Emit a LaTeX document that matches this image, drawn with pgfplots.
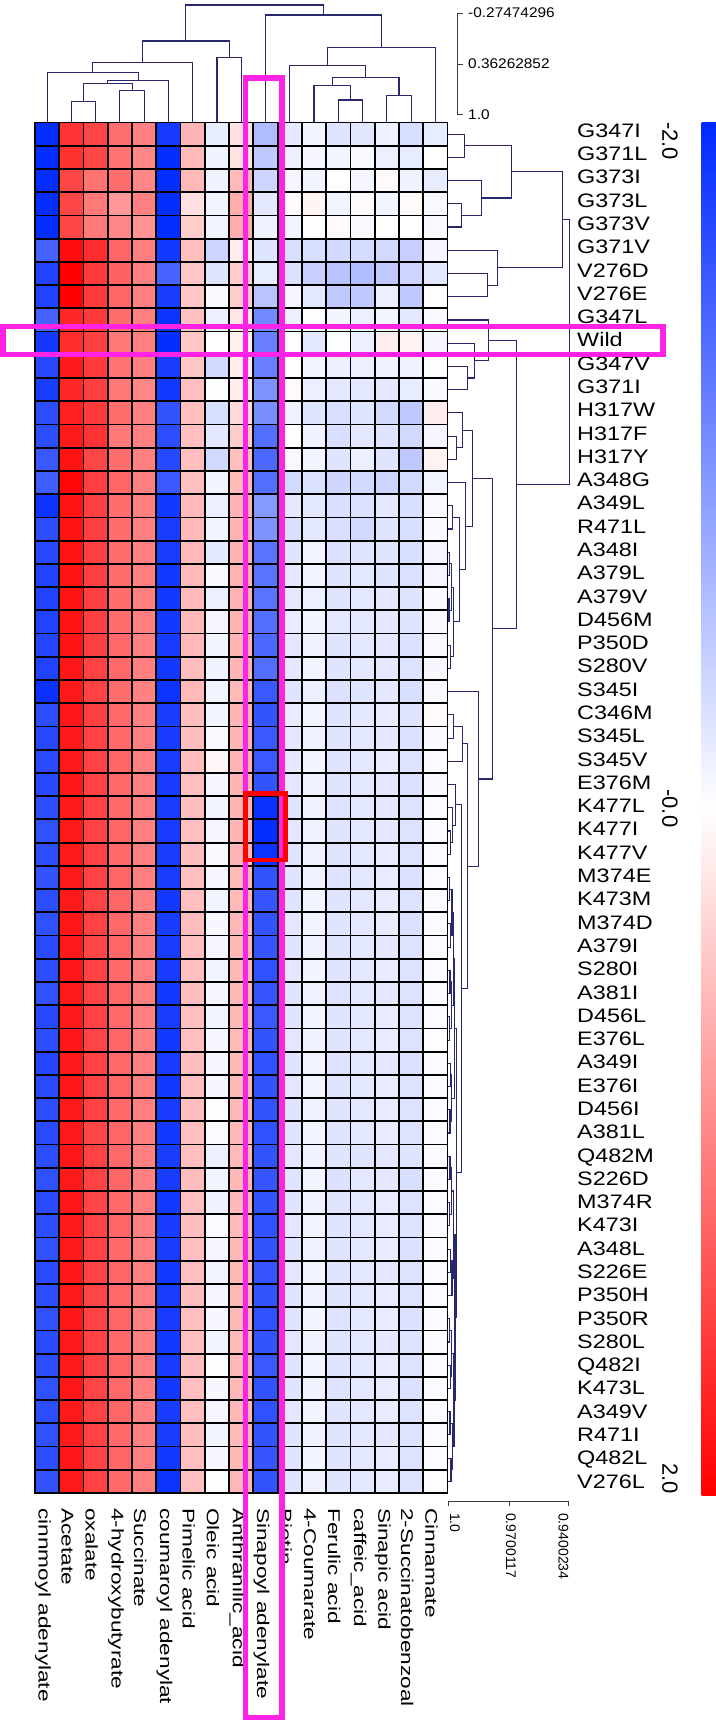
\documentclass[border=0pt]{standalone}
\usepackage{fontspec}
\setmainfont{Liberation Sans}
\usepackage{pgfplots}
\usepackage{pgfplotstable}
\pgfplotsset{compat=1.18}
\definecolor{dendro}{RGB}{40,40,110}
\definecolor{hl}{RGB}{255,35,230}
\definecolor{sc}{RGB}{60,60,60}
\pgfdeclareplotmark{cell}{%
  \pgfpathrectangle{\pgfqpoint{-12.1325pt}{-11.6145pt}}{\pgfqpoint{24.265pt}{23.229pt}}%
  \pgfusepathqfillstroke}
\newcommand\rowf{\fontsize{19.5}{22}\selectfont}
\newcommand\colf{\fontsize{17}{19}\selectfont}
\newcommand\cbf{\fontsize{22}{24}\selectfont}
\newcommand\scf{\fontsize{14}{16}\selectfont}

\pgfplotstableread{
c1 c2 c3 c4 c5 c6 c7 c8 c9 c10 c11 c12 c13 c14 c15 c16 c17
-1.95 1.60 1.46 1.14 1.00 -1.83 0.58 -0.18 0.24 -0.62 -0.20 -0.10 -0.24 -0.23 -0.13 -0.30 -0.18
-1.97 1.62 1.45 1.10 0.95 -1.95 0.55 -0.12 0.22 -0.50 -0.15 -0.08 -0.10 -0.05 -0.15 -0.18 0.00
-1.95 1.45 1.10 1.15 0.95 -1.95 0.55 -0.12 0.55 -0.40 -0.08 -0.10 0.00 -0.08 0.05 -0.12 -0.18
-1.95 1.45 1.05 0.80 1.00 -1.95 0.25 -0.10 0.65 -0.20 0.03 0.08 -0.10 0.03 -0.10 0.05 -0.05
-1.95 1.45 1.05 0.95 0.85 -1.95 0.40 -0.10 0.65 -0.12 -0.10 0.00 0.05 -0.05 0.00 0.00 -0.05
-1.45 1.90 1.65 1.20 1.00 -1.85 0.50 -0.40 0.15 -0.25 -0.30 -0.30 -0.35 -0.32 -0.35 -0.45 -0.08
-1.75 2.00 1.55 1.25 1.00 -1.45 0.45 -0.25 0.40 -0.18 -0.28 -0.45 -0.55 -0.60 -0.50 -0.40 -0.20
-1.75 2.00 1.55 1.20 1.00 -1.80 0.45 -0.05 0.40 -0.55 -0.08 -0.20 -0.50 -0.50 -0.15 -0.50 0.02
-1.45 1.70 1.55 1.15 1.00 -1.90 0.50 -0.15 0.20 -1.10 -0.15 -0.02 -0.10 -0.15 -0.10 -0.20 -0.05
-1.85 1.65 1.50 1.05 1.00 -1.95 0.45 0.00 0.12 -1.20 -0.02 -0.20 -0.02 -0.15 0.15 0.10 -0.08
-1.70 1.80 1.55 1.10 1.00 -1.80 0.45 -0.35 0.15 -1.20 0.00 -0.10 -0.15 -0.15 -0.12 -0.12 -0.02
-1.80 1.70 1.50 1.05 0.95 -1.85 0.50 -0.02 0.15 -1.00 0.05 -0.15 -0.20 -0.20 -0.20 -0.18 -0.05
-1.65 1.75 1.55 1.15 1.00 -1.60 0.50 -0.30 0.30 -1.05 -0.12 -0.25 -0.30 -0.25 -0.35 -0.50 0.15
-1.65 1.80 1.60 1.05 1.00 -1.65 0.50 -0.22 0.40 -1.35 0.02 -0.12 -0.30 -0.20 -0.25 -0.35 -0.08
-1.55 1.85 1.45 1.15 1.00 -1.70 0.50 -0.35 0.50 -1.40 -0.05 -0.10 -0.25 -0.15 -0.25 -0.50 0.10
-1.50 1.95 1.50 1.20 1.00 -1.55 0.50 -0.10 0.55 -1.35 -0.35 -0.28 -0.38 -0.35 -0.40 -0.35 -0.10
-1.90 1.85 1.50 1.15 1.00 -1.85 0.55 -0.15 0.60 -0.95 -0.20 -0.20 -0.30 -0.28 -0.20 -0.30 -0.05
-1.65 1.85 1.50 1.15 1.00 -1.80 0.55 -0.10 0.60 -1.00 -0.30 -0.20 -0.30 -0.35 -0.25 -0.30 -0.05
-1.70 1.85 1.50 1.15 1.00 -1.80 0.55 -0.20 0.60 -1.30 -0.25 -0.10 -0.28 -0.25 -0.25 -0.30 -0.08
-1.75 1.85 1.50 1.15 1.00 -1.85 0.55 -0.05 0.60 -1.30 -0.20 -0.10 -0.25 -0.20 -0.25 -0.28 -0.08
-1.75 1.85 1.50 1.15 1.00 -1.85 0.55 -0.15 0.60 -1.30 -0.20 -0.15 -0.25 -0.22 -0.20 -0.25 -0.05
-1.75 1.85 1.50 1.15 1.00 -1.85 0.55 -0.08 0.60 -1.35 -0.18 -0.10 -0.22 -0.22 -0.20 -0.25 -0.05
-1.72 1.85 1.50 1.18 1.00 -1.82 0.55 -0.10 0.58 -1.40 -0.22 -0.12 -0.25 -0.22 -0.22 -0.28 -0.05
-1.75 1.82 1.48 1.18 1.00 -1.85 0.52 -0.12 0.58 -1.35 -0.20 -0.10 -0.24 -0.20 -0.20 -0.26 -0.06
-1.92 1.80 1.48 1.15 0.98 -1.90 0.55 -0.10 0.55 -1.55 -0.25 -0.15 -0.28 -0.25 -0.20 -0.30 -0.05
-1.65 1.82 1.50 1.18 1.00 -1.80 0.52 -0.10 0.58 -1.60 -0.18 -0.10 -0.24 -0.20 -0.18 -0.25 0.05
-1.70 1.80 1.48 1.18 1.00 -1.82 0.52 -0.05 0.58 -1.55 -0.22 -0.12 -0.25 -0.22 -0.20 -0.28 -0.05
-1.68 1.80 1.48 1.20 1.00 -1.80 0.52 0.06 0.58 -1.55 -0.20 -0.10 -0.24 -0.22 -0.18 -0.26 -0.04
-1.70 1.82 1.48 1.18 1.00 -1.82 0.50 -0.08 0.58 -1.60 -0.22 -0.12 -0.25 -0.22 -0.20 -0.28 -0.05
-1.65 1.80 1.48 1.18 1.00 -1.80 0.52 -0.10 0.58 -1.92 -0.24 -0.12 -0.26 -0.22 -0.20 -0.26 -0.04
-1.62 1.80 1.48 1.20 1.00 -1.82 0.50 -0.08 0.58 -1.95 -0.22 -0.12 -0.25 -0.22 -0.20 -0.26 -0.04
-1.65 1.80 1.48 1.18 1.00 -1.80 0.52 -0.05 0.58 -1.90 -0.24 -0.12 -0.25 -0.22 -0.18 -0.26 -0.04
-1.60 1.80 1.48 1.20 1.00 -1.80 0.50 -0.08 0.55 -1.60 -0.24 -0.12 -0.26 -0.22 -0.18 -0.28 -0.04
-1.65 1.80 1.48 1.20 1.00 -1.85 0.50 -0.10 0.55 -1.58 -0.24 -0.10 -0.25 -0.22 -0.18 -0.26 -0.04
-1.62 1.82 1.48 1.18 1.00 -1.82 0.52 -0.06 0.56 -1.60 -0.22 -0.10 -0.24 -0.22 -0.18 -0.28 -0.03
-1.68 1.80 1.46 1.20 1.00 -1.80 0.50 -0.08 0.56 -1.58 -0.25 -0.12 -0.25 -0.22 -0.20 -0.26 -0.04
-1.65 1.82 1.48 1.18 1.00 -1.82 0.50 -0.10 0.56 -1.62 -0.22 -0.10 -0.24 -0.22 -0.18 -0.26 -0.04
-1.62 1.80 1.48 1.20 1.00 -1.85 0.52 -0.06 0.56 -1.58 -0.24 -0.12 -0.26 -0.22 -0.20 -0.26 -0.03
-1.70 1.80 1.48 1.18 1.00 -1.80 0.50 -0.10 0.56 -1.55 -0.24 -0.10 -0.25 -0.22 -0.18 -0.26 -0.04
-1.65 1.82 1.46 1.20 1.00 -1.85 0.50 -0.06 0.55 -1.60 -0.22 -0.12 -0.24 -0.22 -0.18 -0.26 -0.02
-1.72 1.80 1.48 1.18 1.00 -1.82 0.52 -0.08 0.56 -1.62 -0.24 -0.10 -0.26 -0.22 -0.20 -0.28 -0.04
-1.68 1.82 1.48 1.20 1.00 -1.85 0.50 -0.06 0.56 -1.60 -0.22 -0.10 -0.24 -0.20 -0.18 -0.26 -0.03
-1.65 1.80 1.48 1.18 1.00 -1.82 0.52 -0.02 0.56 -1.60 -0.24 -0.12 -0.25 -0.22 -0.18 -0.26 -0.03
-1.68 1.80 1.46 1.20 1.00 -1.85 0.50 -0.04 0.56 -1.62 -0.24 -0.10 -0.25 -0.22 -0.18 -0.26 -0.03
-1.65 1.82 1.48 1.18 1.00 -1.80 0.50 -0.15 0.55 -1.60 -0.22 -0.12 -0.25 -0.24 -0.20 -0.24 -0.04
-1.62 1.80 1.48 1.20 1.00 -1.82 0.52 -0.10 0.56 -1.58 -0.24 -0.10 -0.28 -0.22 -0.20 -0.30 -0.03
-1.68 1.82 1.46 1.18 1.00 -1.85 0.50 -0.12 0.56 -1.60 -0.24 -0.12 -0.25 -0.22 -0.18 -0.26 -0.04
-1.65 1.80 1.48 1.20 1.00 -1.82 0.52 -0.04 0.55 -1.62 -0.22 -0.10 -0.25 -0.22 -0.18 -0.26 -0.03
-1.62 1.80 1.48 1.18 1.00 -1.80 0.50 -0.08 0.56 -1.60 -0.24 -0.12 -0.24 -0.22 -0.18 -0.28 -0.03
-1.68 1.82 1.48 1.20 1.00 -1.85 0.50 -0.10 0.56 -1.58 -0.22 -0.10 -0.25 -0.22 -0.20 -0.26 -0.04
-1.65 1.80 1.46 1.18 1.00 -1.80 0.52 -0.08 0.56 -1.60 -0.24 -0.12 -0.25 -0.22 -0.18 -0.26 -0.03
-1.62 1.82 1.48 1.20 1.00 -1.82 0.50 -0.06 0.56 -1.62 -0.24 -0.10 -0.26 -0.22 -0.18 -0.28 -0.03
-1.68 1.80 1.48 1.18 1.00 -1.85 0.50 -0.10 0.55 -1.60 -0.22 -0.12 -0.25 -0.22 -0.20 -0.26 -0.04
-1.65 1.80 1.48 1.20 1.00 -1.82 0.52 -0.02 0.56 -1.55 -0.24 -0.10 -0.24 -0.22 -0.18 -0.26 -0.03
-1.62 1.82 1.46 1.18 1.00 -1.85 0.50 -0.06 0.56 -1.60 -0.24 -0.12 -0.26 -0.22 -0.18 -0.28 -0.03
-1.65 1.80 1.48 1.20 1.00 -1.82 0.50 -0.08 0.56 -1.62 -0.22 -0.10 -0.25 -0.22 -0.18 -0.26 -0.04
-1.62 1.80 1.48 1.18 1.00 -1.80 0.52 -0.10 0.55 -1.60 -0.24 -0.12 -0.25 -0.22 -0.20 -0.26 -0.03
-1.65 1.82 1.48 1.20 1.00 -1.85 0.50 -0.06 0.56 -1.58 -0.24 -0.10 -0.25 -0.22 -0.18 -0.26 -0.03
-1.60 1.80 1.48 1.18 1.00 -1.90 0.50 -0.02 0.56 -1.60 -0.24 -0.12 -0.25 -0.22 -0.18 -0.26 -0.02
}\heat

\begin{document}
\begin{tikzpicture}[x=1pt,y=1pt]
% ---------------- heatmap ----------------
\begin{axis}[
  at={(35pt,227pt)}, anchor=south west,
  width=412.5pt, height=1370.5pt, scale only axis,
  xmin=-0.5, xmax=16.5, ymin=0.5, ymax=59.5, y dir=reverse,
  axis line style={draw=none}, xtick=\empty, ytick=\empty,
  clip=false,
  colormap={bwr}{rgb255=(0,40,255) rgb255=(255,255,255) rgb255=(255,0,0)},
  point meta min=-2, point meta max=2,
  colorbar,
  colorbar style={at={(parent axis.north east)}, anchor=north west,
    xshift=245.5pt, yshift=0.5pt, width=22pt, height=1373pt,
    scale only axis, y dir=reverse, ytick=\empty, xtick=\empty,
    axis line style={draw=none}},
]
\pgfplotsinvokeforeach{0,...,16}{
  \addplot[scatter, only marks, mark=cell, line width=1.8pt, point meta=explicit,
    scatter/use mapped color={draw=black, fill=mapped color}]
    table[x expr=#1, y expr=\coordindex+1, meta index=#1] {\heat};
}
\end{axis}

% ---------------- column dendrogram ----------------
\begin{axis}[
  at={(35pt,1597.5pt)}, anchor=south west,
  width=412.5pt, height=122.5pt, scale only axis,
  xmin=-0.5, xmax=16.5, ymin=-0.4411, ymax=1.094, y dir=reverse,
  hide axis, clip=false,
]
\addplot[dendro, line width=1.1pt, unbounded coords=jump] table[row sep=\\, x=x, y=y] {
x y\\
1 1.09\\ 1 0.833\\ 2 0.833\\ 2 1.09\\ nan nan\\
3 1.09\\ 3 0.695\\ 4 0.695\\ 4 1.09\\ nan nan\\
1.5 0.833\\ 1.5 0.603\\ 3.5 0.603\\ 3.5 0.695\\ nan nan\\
2.5 0.603\\ 2.5 0.564\\ 5 0.564\\ 5 1.09\\ nan nan\\
0 1.09\\ 0 0.470\\ 3.75 0.470\\ 3.75 0.564\\ nan nan\\
1.875 0.470\\ 1.875 0.345\\ 6 0.345\\ 6 1.09\\ nan nan\\
7 1.09\\ 7 0.277\\ 8 0.277\\ 8 1.09\\ nan nan\\
3.9375 0.345\\ 3.9375 0.073\\ 7.5 0.073\\ 7.5 0.277\\ nan nan\\
12 1.09\\ 12 0.812\\ 13 0.812\\ 13 1.09\\ nan nan\\
14 1.09\\ 14 0.758\\ 15 0.758\\ 15 1.09\\ nan nan\\
11 1.09\\ 11 0.633\\ 12.5 0.633\\ 12.5 0.812\\ nan nan\\
11.75 0.633\\ 11.75 0.528\\ 14.5 0.528\\ 14.5 0.758\\ nan nan\\
10 1.09\\ 10 0.382\\ 13.125 0.382\\ 13.125 0.528\\ nan nan\\
11.5625 0.382\\ 11.5625 0.157\\ 16 0.157\\ 16 1.09\\ nan nan\\
9 1.09\\ 9 -0.253\\ 13.78125 -0.253\\ 13.78125 0.157\\ nan nan\\
5.71875 0.073\\ 5.71875 -0.378\\ 11.390625 -0.378\\ 11.390625 -0.253\\
};
\end{axis}

% ---------------- row dendrogram ----------------
\begin{axis}[
  at={(447.5pt,227pt)}, anchor=south west,
  width=127.5pt, height=1370.5pt, scale only axis,
  xmin=0.93679, xmax=1.0, x dir=reverse,
  ymin=0.5, ymax=59.5, y dir=reverse,
  hide axis, clip=false,
]
\addplot[dendro, line width=1.1pt, unbounded coords=jump] table[row sep=\\, x=x, y=y] {
x y\\
1 1\\ 0.99157 1\\ 0.99157 2\\ 1 2\\ nan nan\\
1 4\\ 0.99321 4\\ 0.99321 5\\ 1 5\\ nan nan\\
1 3\\ 0.98329 3\\ 0.98329 4.5\\ 0.99321 4.5\\ nan nan\\
0.99157 1.5\\ 0.96842 1.5\\ 0.96842 3.75\\ 0.98329 3.75\\ nan nan\\
1 7\\ 0.98002 7\\ 0.98002 8\\ 1 8\\ nan nan\\
1 6\\ 0.97506 6\\ 0.97506 7.5\\ 0.98002 7.5\\ nan nan\\
0.96842 2.625\\ 0.94313 2.625\\ 0.94313 6.75\\ 0.97506 6.75\\ nan nan\\
1 11\\ 0.98994 11\\ 0.98994 12\\ 1 12\\ nan nan\\
1 10\\ 0.98661 10\\ 0.98661 11.5\\ 0.98994 11.5\\ nan nan\\
1 9\\ 0.97952 9\\ 0.97952 10.75\\ 0.98661 10.75\\ nan nan\\
1 14\\ 0.99569 14\\ 0.99569 15\\ 1 15\\ nan nan\\
1 13\\ 0.99271 13\\ 0.99271 14.5\\ 0.99569 14.5\\ nan nan\\
1 17\\ 0.99752 17\\ 0.99752 18\\ 1 18\\ nan nan\\
1 19\\ 0.99901 19\\ 0.99901 20\\ 1 20\\ nan nan\\
1 21\\ 0.99926 21\\ 0.99926 22\\ 1 22\\ nan nan\\
0.99901 19.5\\ 0.99802 19.5\\ 0.99802 21.5\\ 0.99926 21.5\\ nan nan\\
1 23\\ 0.99851 23\\ 0.99851 24\\ 1 24\\ nan nan\\
0.99802 20.5\\ 0.99703 20.5\\ 0.99703 23.5\\ 0.99851 23.5\\ nan nan\\
0.99752 17.5\\ 0.99405 17.5\\ 0.99405 22\\ 0.99703 22\\ nan nan\\
1 16\\ 0.99108 16\\ 0.99108 19.75\\ 0.99405 19.75\\ nan nan\\
0.99271 13.75\\ 0.98746 13.75\\ 0.98746 17.875\\ 0.99108 17.875\\ nan nan\\
1 31\\ 0.99851 31\\ 0.99851 32\\ 1 32\\ nan nan\\
1 30\\ 0.99752 30\\ 0.99752 31.5\\ 0.99851 31.5\\ nan nan\\
1 29\\ 0.99603 29\\ 0.99603 30.75\\ 0.99752 30.75\\ nan nan\\
1 33\\ 0.99901 33\\ 0.99901 34\\ 1 34\\ nan nan\\
1 35\\ 0.99851 35\\ 0.99851 36\\ 1 36\\ nan nan\\
0.99901 33.5\\ 0.99777 33.5\\ 0.99777 35.5\\ 0.99851 35.5\\ nan nan\\
1 37\\ 0.99876 37\\ 0.99876 38\\ 1 38\\ nan nan\\
1 39\\ 0.99901 39\\ 0.99901 40\\ 1 40\\ nan nan\\
0.99876 37.5\\ 0.99802 37.5\\ 0.99802 39.5\\ 0.99901 39.5\\ nan nan\\
0.99777 34.5\\ 0.99703 34.5\\ 0.99703 38.5\\ 0.99802 38.5\\ nan nan\\
1 41\\ 0.99851 41\\ 0.99851 42\\ 1 42\\ nan nan\\
1 43\\ 0.99876 43\\ 0.99876 44\\ 1 44\\ nan nan\\
0.99851 41.5\\ 0.99802 41.5\\ 0.99802 43.5\\ 0.99876 43.5\\ nan nan\\
0.99703 36.5\\ 0.99653 36.5\\ 0.99653 42.5\\ 0.99802 42.5\\ nan nan\\
1 45\\ 0.99876 45\\ 0.99876 46\\ 1 46\\ nan nan\\
1 47\\ 0.99901 47\\ 0.99901 48\\ 1 48\\ nan nan\\
0.99876 45.5\\ 0.99802 45.5\\ 0.99802 47.5\\ 0.99901 47.5\\ nan nan\\
1 49\\ 0.99851 49\\ 0.99851 50\\ 1 50\\ nan nan\\
0.99851 49.5\\ 0.99777 49.5\\ 0.99777 51\\ 1 51\\ nan nan\\
0.99802 46.5\\ 0.99703 46.5\\ 0.99703 50.25\\ 0.99777 50.25\\ nan nan\\
1 52\\ 0.99901 52\\ 0.99901 53\\ 1 53\\ nan nan\\
1 54\\ 0.99851 54\\ 0.99851 55\\ 1 55\\ nan nan\\
0.99901 52.5\\ 0.99802 52.5\\ 0.99802 54.5\\ 0.99851 54.5\\ nan nan\\
1 56\\ 0.99876 56\\ 0.99876 57\\ 1 57\\ nan nan\\
1 58\\ 0.99826 58\\ 0.99826 59\\ 1 59\\ nan nan\\
0.99876 56.5\\ 0.99752 56.5\\ 0.99752 58.5\\ 0.99826 58.5\\ nan nan\\
0.99802 53.5\\ 0.99678 53.5\\ 0.99678 57.5\\ 0.99752 57.5\\ nan nan\\
0.99703 48.375\\ 0.99628 48.375\\ 0.99628 55.5\\ 0.99678 55.5\\ nan nan\\
0.99653 39.5\\ 0.99569 39.5\\ 0.99569 51.9375\\ 0.99628 51.9375\\ nan nan\\
0.99603 29.875\\ 0.99321 29.875\\ 0.99321 45.71875\\ 0.99569 45.71875\\ nan nan\\
1 26\\ 0.99703 26\\ 0.99703 27\\ 1 27\\ nan nan\\
0.99703 26.5\\ 0.99271 26.5\\ 0.99271 28\\ 1 28\\ nan nan\\
0.99271 27.25\\ 0.98994 27.25\\ 0.98994 37.797\\ 0.99321 37.797\\ nan nan\\
1 25\\ 0.98448 25\\ 0.98448 32.523\\ 0.98994 32.523\\ nan nan\\
0.98746 15.8125\\ 0.97754 15.8125\\ 0.97754 28.762\\ 0.98448 28.762\\ nan nan\\
0.97952 9.875\\ 0.96564 9.875\\ 0.96564 22.287\\ 0.97754 22.287\\ nan nan\\
0.94313 4.6875\\ 0.93951 4.6875\\ 0.93951 16.081\\ 0.96564 16.081\\
};
\end{axis}

% ---------------- scales of the dendrograms ----------------
\draw[sc, line width=1pt] (463.3,1706.7) -- (457.8,1706.7) -- (457.8,1605) -- (463.3,1605);
\draw[sc, line width=1pt] (457.8,1655.9) -- (463.3,1655.9);
\node[anchor=west, inner sep=0pt, font=\scf, xscale=1.1] at (468,1707.7) {-0.27474296};
\node[anchor=west, inner sep=0pt, font=\scf, xscale=1.1] at (468,1656.7) {0.36262852};
\node[anchor=west, inner sep=0pt, font=\scf, xscale=1.1] at (468,1605) {1.0};

\draw[sc, line width=1pt] (448,213.5) -- (448,218.3) -- (568.5,218.3) -- (568.5,213.5);
\draw[sc, line width=1pt] (509,218.3) -- (509,213.5);
\node[rotate=-90, anchor=west, inner sep=0pt, font=\scf] at (455,207) {1.0};
\node[rotate=-90, anchor=west, inner sep=0pt, font=\scf] at (511,207) {0.9700117};
\node[rotate=-90, anchor=west, inner sep=0pt, font=\scf] at (563.5,207) {0.9400234};

% ---------------- row labels ----------------
\foreach \lab [count=\i] in {G347I,G371L,G373I,G373L,G373V,G371V,V276D,V276E,G347L,Wild,
  G347V,G371I,H317W,H317F,H317Y,A348G,A349L,R471L,A348I,A379L,A379V,D456M,P350D,S280V,
  S345I,C346M,S345L,S345V,E376M,K477L,K477I,K477V,M374E,K473M,M374D,A379I,S280I,A381I,
  D456L,E376L,A349I,E376I,D456I,A381L,Q482M,S226D,M374R,K473I,A348L,S226E,P350H,P350R,
  S280L,Q482I,K473L,A349V,R471I,Q482L,V276L}{
  \node[anchor=base west, inner sep=0pt, font=\rowf, xscale=1.2] at (577,{1720-137.3-(\i-1)*23.29}) {\lab};
}

% ---------------- column labels ----------------
\foreach \lab [count=\j] in {cinnmoyl adenylate,Acetate,oxalate,4-hydroxybutyrate,Succinate,
  coumaroyl adenylat,Pimelic acid,Oleic acid,Anthranilic\_acid,Sinapoyl adenylate,Biotin,
  4-Coumarate,Ferulic acid,caffeic\_acid,Sinapic acid,2-Succinatobenzoal,Cinnamate}{
  \node[rotate=-90, xscale=1.33, anchor=west, inner sep=0pt, font=\colf] at ({35+(\j-0.5)*24.265-4},212) {\lab};
}

% ---------------- colour bar labels ----------------
\node[rotate=-90, anchor=south west, inner sep=0pt, font=\cbf] at (662,1598) {-2.0};
\node[rotate=-90, anchor=south, inner sep=0pt, font=\cbf] at (662,911.7) {-0.0};
\node[rotate=-90, anchor=south east, inner sep=0pt, font=\cbf] at (662,226) {2.0};

% ---------------- highlight boxes ----------------
\draw[hl, line width=5.5pt] (245.5,1642) rectangle (281.8,2);
\draw[hl, line width=5.5pt] (2.8,1393.3) rectangle (663,1365.5);
\draw[red, line width=4.5pt] (245.3,926.7) rectangle (285.7,860);

\pgfresetboundingbox
\path[use as bounding box] (0,0) rectangle (715,1720);
\end{tikzpicture}
\end{document}
